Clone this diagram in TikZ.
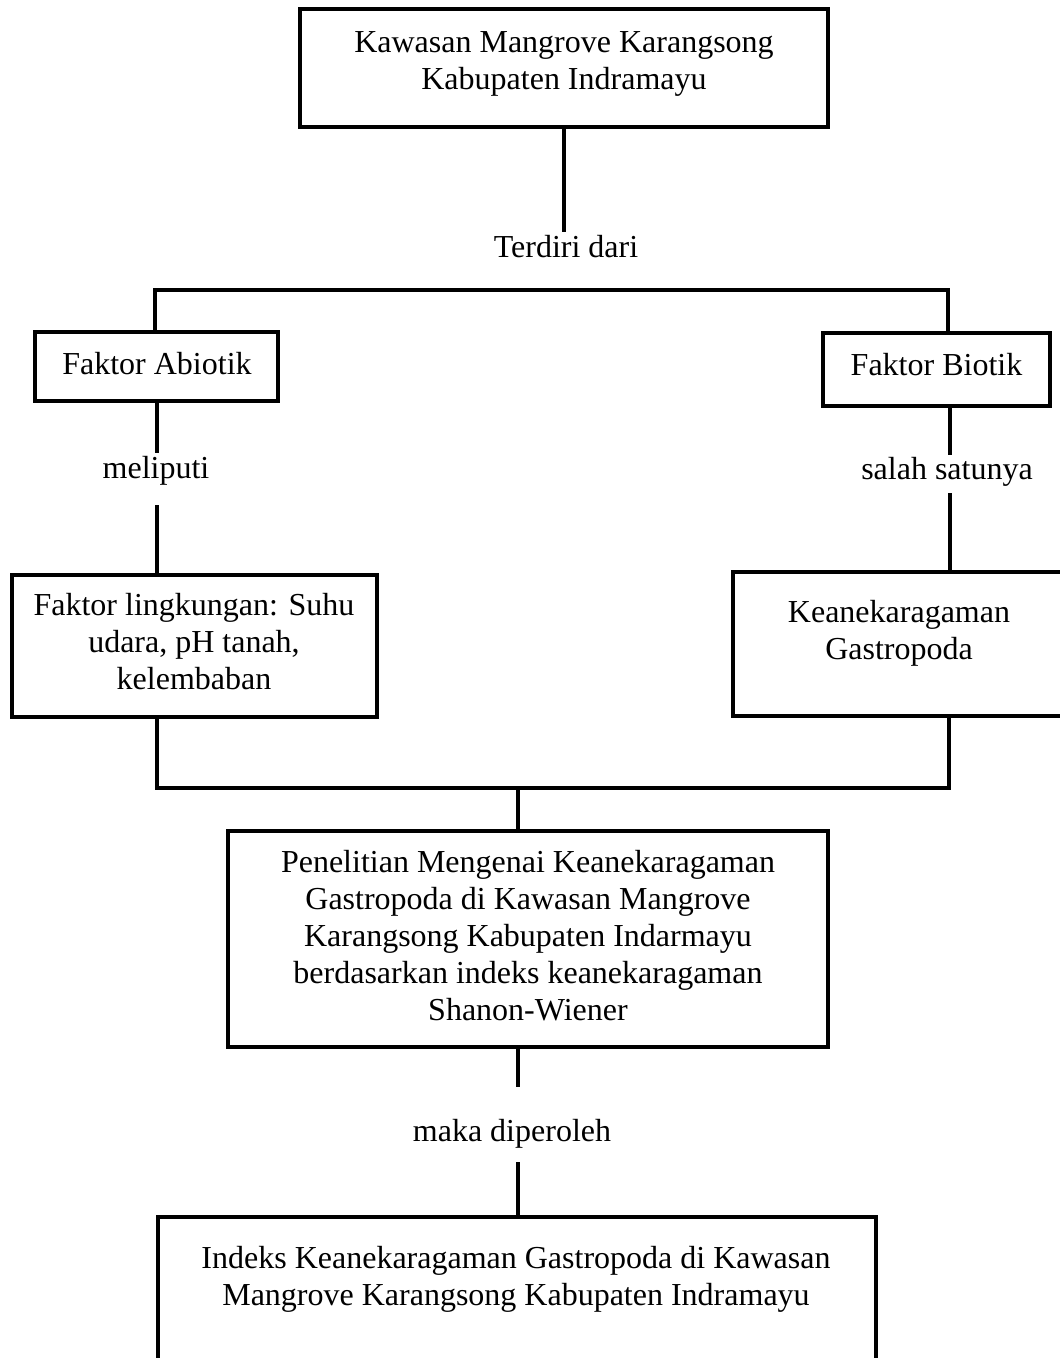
\documentclass[tikz,border=0pt]{standalone}
\usepackage{fontspec}
\setmainfont{Liberation Serif}
\newcommand{\mlines}[1]{\begin{tabular}[t]{@{}c@{}}#1\end{tabular}}
\begin{document}
\begin{tikzpicture}[x=1pt,y=-1pt,
  box/.style={draw=black, line width=4.5pt, inner sep=0pt, rectangle, fill=none},
  txt/.style={inner sep=0pt, anchor=base, font=\fontsize{32}{37}\selectfont},
  conn/.style={draw=black, line width=4.5pt}]
\useasboundingbox (0,0) rectangle (1060,1358);

% boxes
\node[box, minimum width=528pt, minimum height=118pt] (top) at (564,68) {};
\node[box, minimum width=243pt, minimum height=69pt] (abiotik) at (156.5,366.5) {};
\node[box, minimum width=227pt, minimum height=73pt] (biotik) at (936.5,369.5) {};
\node[box, minimum width=365pt, minimum height=142pt] (lingk) at (194.5,646) {};
\node[box, minimum width=333pt, minimum height=144pt] (kean) at (899.5,644) {};
\node[box, minimum width=600pt, minimum height=216pt] (pen) at (528,939) {};
\node[box, minimum width=718pt, minimum height=220pt] (bottom) at (517,1327) {};

% box texts
\node[txt] (toptext) at (564,52) {\mlines{Kawasan Mangrove Karangsong\\Kabupaten Indramayu}};
\node[txt] (abiotiktext) at (157,374) {Faktor Abiotik};
\node[txt] (biotiktext) at (936.5,375) {Faktor Biotik};
\node[txt] (lingktext) at (194,615) {\mlines{Faktor lingkungan: Suhu\\udara, pH tanah,\\kelembaban}};
\node[txt] (keantext) at (899,622) {\mlines{Keanekaragaman\\Gastropoda}};
\node[txt] (pentext) at (528,872) {\mlines{Penelitian Mengenai Keanekaragaman\\Gastropoda di Kawasan Mangrove\\Karangsong Kabupaten Indarmayu\\berdasarkan indeks keanekaragaman\\Shanon-Wiener}};
\node[txt] (bottomtext) at (516,1268) {\mlines{Indeks Keanekaragaman Gastropoda di Kawasan\\Mangrove Karangsong Kabupaten Indramayu}};

% connector labels
\node[txt] (terdiri) at (566,257) {Terdiri dari};
\node[txt] (meliputi) at (156,478) {meliputi};
\node[txt] (salah) at (947,479) {salah satunya};
\node[txt] (maka) at (512,1141) {maka diperoleh};

% free ends
\coordinate (c1) at (564,232);
\coordinate (hl) at (155,290);
\coordinate (hr) at (948,290);
\coordinate (a1) at (157,453);
\coordinate (a2) at (157,505);
\coordinate (b1) at (950,455);
\coordinate (b2) at (950,493);
\coordinate (jl) at (157,788);
\coordinate (jr) at (949,788);
\coordinate (j) at (518,788);
\coordinate (p1) at (518,1087);
\coordinate (p2) at (518,1162);

% connectors
\draw[conn] (top.south) -- (c1);
\draw[conn] (hl |- abiotik.north) -- (hl) -- (hr) -- (hr |- biotik.north);
\draw[conn] (a1 |- abiotik.south) -- (a1);
\draw[conn] (a2) -- (a2 |- lingk.north);
\draw[conn] (b1 |- biotik.south) -- (b1);
\draw[conn] (b2) -- (b2 |- kean.north);
\draw[conn] (jl |- lingk.south) -- (jl) -- (jr) -- (jr |- kean.south);
\draw[conn] (j) -- (j |- pen.north);
\draw[conn] (p1 |- pen.south) -- (p1);
\draw[conn] (p2) -- (p2 |- bottom.north);
\end{tikzpicture}
\end{document}
